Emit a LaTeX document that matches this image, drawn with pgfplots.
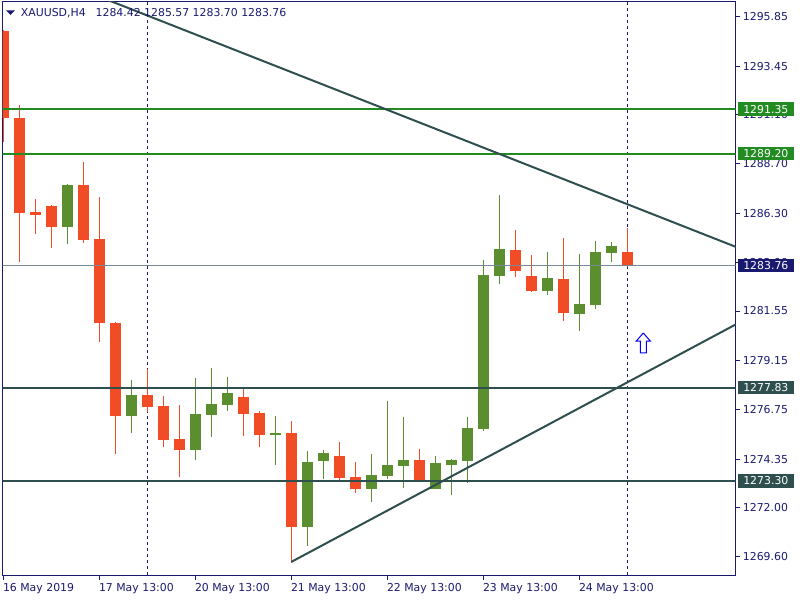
\documentclass[border=0pt]{standalone}
\usepackage{fontspec}
\setmainfont{DejaVu Sans}
\usepackage{pgfplots}
\usepackage{pgfplotstable}
\pgfplotsset{compat=1.18}
\definecolor{bearc}{RGB}{242,76,38}
\definecolor{bullc}{RGB}{90,142,46}
\definecolor{fg}{RGB}{25,25,112}
\definecolor{grn}{RGB}{34,139,34}
\definecolor{dsg}{RGB}{47,79,79}
\definecolor{bidc}{RGB}{119,136,153}
\newcommand{\F}{\fontsize{10.9bp}{13bp}\selectfont}

\pgfplotstableread{
i o h l c
4 1285.65 1287.70 1284.82 1287.67
8 1276.46 1278.20 1275.64 1277.47
12 1274.81 1278.29 1274.32 1276.55
13 1276.51 1278.78 1275.44 1277.03
14 1277.00 1278.34 1276.71 1277.57
17 1275.55 1276.45 1274.08 1275.60
19 1271.07 1274.75 1270.15 1274.21
20 1274.28 1274.80 1273.40 1274.65
23 1272.92 1274.60 1272.28 1273.58
24 1273.55 1277.18 1273.40 1274.07
25 1274.03 1276.40 1272.96 1274.31
27 1272.90 1274.50 1272.88 1274.16
28 1274.08 1274.35 1272.62 1274.31
29 1274.28 1276.40 1273.21 1275.87
30 1275.83 1284.03 1275.73 1283.30
31 1283.27 1287.19 1282.88 1284.56
34 1282.54 1284.42 1282.34 1283.15
36 1281.42 1284.32 1280.59 1281.89
37 1281.86 1284.95 1281.66 1284.42
38 1284.38 1284.90 1283.95 1284.71
}\bull

\pgfplotstableread{
i o h l c
0 1295.16 1295.20 1289.78 1290.94
1 1290.94 1291.56 1283.95 1286.33
2 1286.36 1286.99 1285.31 1286.23
3 1286.67 1286.71 1284.63 1285.65
5 1287.67 1288.78 1284.87 1285.01
6 1285.05 1287.09 1280.06 1280.98
7 1280.97 1281.02 1274.62 1276.46
9 1277.47 1278.73 1276.66 1276.90
10 1276.93 1277.42 1274.96 1275.30
11 1275.33 1276.98 1273.50 1274.81
15 1277.37 1277.81 1275.49 1276.56
16 1276.59 1276.69 1274.96 1275.54
18 1275.62 1276.21 1269.32 1271.07
21 1274.50 1275.18 1273.35 1273.45
22 1273.48 1274.21 1272.72 1272.92
26 1274.31 1274.84 1273.26 1273.35
32 1284.51 1285.49 1283.22 1283.51
33 1283.25 1284.27 1282.49 1282.54
35 1283.11 1285.10 1281.08 1281.47
39 1284.42 1285.57 1283.70 1283.76
}\bear

% draw candles of a table (#1) in colour #2
\newcommand{\candles}[2]{%
  \pgfplotstablegetrowsof{#1}%
  \pgfmathtruncatemacro{\nrows}{\pgfplotsretval-1}%
  \pgfplotsforeachungrouped \r in {0,...,\nrows}{%
    \pgfplotstablegetelem{\r}{i}\of{#1}\let\ci\pgfplotsretval
    \pgfplotstablegetelem{\r}{o}\of{#1}\let\co\pgfplotsretval
    \pgfplotstablegetelem{\r}{h}\of{#1}\let\ch\pgfplotsretval
    \pgfplotstablegetelem{\r}{l}\of{#1}\let\cl\pgfplotsretval
    \pgfplotstablegetelem{\r}{c}\of{#1}\let\cc\pgfplotsretval
    \edef\tmp{%
      \noexpand\addplot[#2, line width=1bp, forget plot] coordinates {(\ci,\cl) (\ci,\ch)};%
      \noexpand\addplot[#2, line width=11bp, forget plot] coordinates {(\ci,\co) (\ci,\cc)};%
    }\tmp
  }%
}

\begin{document}
\begin{tikzpicture}
\begin{axis}[
  at={(2.5bp,24.3bp)}, anchor=south west,
  scale only axis, width=733.2bp, height=573.7bp,
  xmin=-0.05, xmax=45.775, ymin=1268.69, ymax=1296.564,
  axis line style={fg, line width=1bp},
  tick style={fg, line width=1bp},
  tick align=outside, major tick length=4bp,
  xtick pos=bottom, ytick pos=right, yticklabel pos=right,
  xtick={0,6,12,18,24,30,36},
  xticklabels={16 May 2019,17 May 13:00,20 May 13:00,21 May 13:00,22 May 13:00,23 May 13:00,24 May 13:00},
  ytick={1295.85,1293.45,1291.10,1288.70,1286.30,1283.90,1281.55,1279.15,1276.75,1274.35,1272.00,1269.60},
  yticklabels={1295.85,1293.45,1291.10,1288.70,1286.30,1283.90,1281.55,1279.15,1276.75,1274.35,1272.00,1269.60},
  /pgf/number format/assume math mode=true,
  tick label style={font=\F, text=fg, inner sep=0pt},
  xticklabel style={anchor=north west, yshift=-4bp, xshift=-0.5bp},
  yticklabel style={anchor=west, xshift=3bp},
  clip=true,
]
% period separators
\addplot[fg, line width=1bp, dash pattern=on 3bp off 3bp] coordinates {(9,1260) (9,1300)};
\addplot[fg, line width=1bp, dash pattern=on 3bp off 3bp] coordinates {(39,1260) (39,1300)};
% candles
\candles{\bull}{bullc}
\candles{\bear}{bearc}
% horizontal levels
\addplot[grn, line width=2bp] coordinates {(-1,1291.35) (47,1291.35)};
\addplot[grn, line width=2bp] coordinates {(-1,1289.20) (47,1289.20)};
\addplot[bidc, line width=1bp] coordinates {(-1,1283.76) (47,1283.76)};
\addplot[dsg, line width=2bp] coordinates {(-1,1277.83) (47,1277.83)};
\addplot[dsg, line width=2bp] coordinates {(-1,1273.30) (47,1273.30)};
% trend lines
\addplot[dsg, line width=2bp] coordinates {(5,1297.13) (46,1284.60)};
\addplot[dsg, line width=2bp] coordinates {(18.0,1269.36) (46,1280.99)};
% arrow
\addplot[draw=blue, fill=white, line width=1bp] coordinates {(40,1280.48) (40.44,1280.09) (40.19,1280.09) (40.19,1279.52) (39.81,1279.52) (39.81,1280.09) (39.56,1280.09) (40,1280.48)};
% header
\node[anchor=north west, inner sep=0pt, xshift=18.2bp, yshift=-6bp, font=\F, text=fg] at (rel axis cs:0,1) {XAUUSD,H4\hspace{10bp}1284.42 1285.57 1283.70 1283.76};
\coordinate (tl) at (rel axis cs:0,1);
\coordinate (b1) at (axis cs:45.775,1291.35);
\coordinate (b2) at (axis cs:45.775,1289.20);
\coordinate (b3) at (axis cs:45.775,1283.76);
\coordinate (b4) at (axis cs:45.775,1277.83);
\coordinate (b5) at (axis cs:45.775,1273.30);
\end{axis}
\fill[fg] ([xshift=3.5bp,yshift=-8.5bp]tl) -- ++(9bp,0bp) -- ++(-4.5bp,-4.5bp) -- cycle;
\tikzset{pbox/.style={anchor=west, xshift=2bp, inner xsep=5.4bp, inner ysep=0pt, minimum height=13.7bp, text=white, font=\F}}
\node[pbox, fill=grn] at (b1) {1291.35};
\node[pbox, fill=grn] at (b2) {1289.20};
\node[pbox, fill=fg] at (b3) {1283.76};
\node[pbox, fill=dsg] at (b4) {1277.83};
\node[pbox, fill=dsg] at (b5) {1273.30};
\pgfresetboundingbox
\useasboundingbox (0,0) rectangle (800bp,600bp);
\end{tikzpicture}
\end{document}
